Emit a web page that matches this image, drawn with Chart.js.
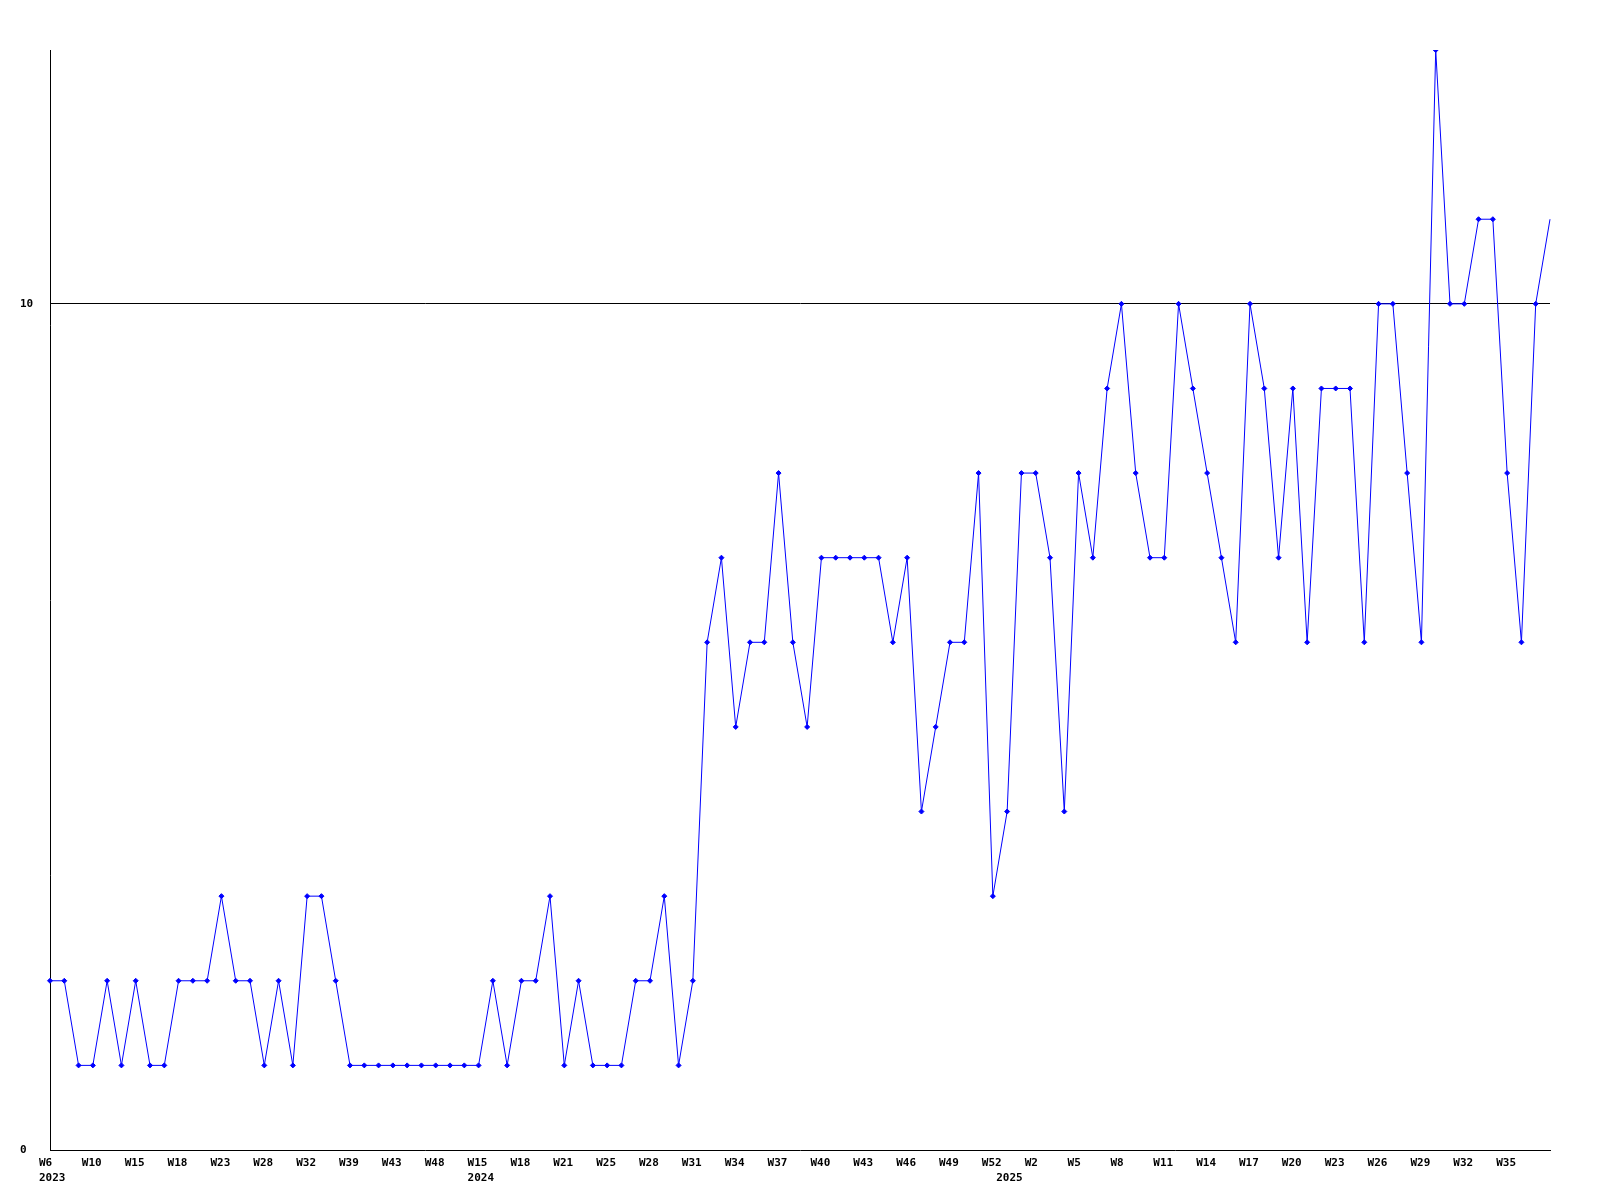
<!DOCTYPE html>
<html>
<head>
<meta charset="utf-8">
<script src="https://cdn.jsdelivr.net/npm/chart.js@4/dist/chart.umd.min.js"></script>
<style>
	body { margin: 0; background: #fff; }
	canvas { display: block; }
</style>
</head>
<body>
<canvas id="weekly" width="1600" height="1200"></canvas>
<script>
// week of each point (only every 3rd one is printed under the axis)
var weeks = [
	'W6', 'W7', 'W8', 'W10', 'W12', 'W13', 'W15', 'W16', 'W17', 'W18',
	'W20', 'W21', 'W23', 'W25', 'W26', 'W28', 'W29', 'W31', 'W32', 'W34',
	'W36', 'W39', 'W40', 'W42', 'W43', 'W45', 'W46', 'W48', 'W49', 'W50',
	'W15', 'W16', 'W17', 'W18', 'W19', 'W20', 'W21', 'W22', 'W24', 'W25',
	'W26', 'W27', 'W28', 'W29', 'W30', 'W31', 'W32', 'W33', 'W34', 'W35',
	'W36', 'W37', 'W38', 'W39', 'W40', 'W41', 'W42', 'W43', 'W44', 'W45',
	'W46', 'W47', 'W48', 'W49', 'W50', 'W51', 'W52', 'W0', 'W1', 'W2',
	'W3', 'W4', 'W5', 'W6', 'W7', 'W8', 'W9', 'W10', 'W11', 'W12',
	'W13', 'W14', 'W15', 'W16', 'W17', 'W18', 'W19', 'W20', 'W21', 'W22',
	'W23', 'W24', 'W25', 'W26', 'W27', 'W28', 'W29', 'W30', 'W31', 'W32',
	'W33', 'W34', 'W35', 'W36', 'W37', 'W38'
];

var years = [
	2023, 2023, 2023, 2023, 2023, 2023, 2023, 2023, 2023, 2023,
	2023, 2023, 2023, 2023, 2023, 2023, 2023, 2023, 2023, 2023,
	2023, 2023, 2023, 2023, 2023, 2023, 2023, 2023, 2023, 2023,
	2024, 2024, 2024, 2024, 2024, 2024, 2024, 2024, 2024, 2024,
	2024, 2024, 2024, 2024, 2024, 2024, 2024, 2024, 2024, 2024,
	2024, 2024, 2024, 2024, 2024, 2024, 2024, 2024, 2024, 2024,
	2024, 2024, 2024, 2024, 2024, 2024, 2024, 2025, 2025, 2025,
	2025, 2025, 2025, 2025, 2025, 2025, 2025, 2025, 2025, 2025,
	2025, 2025, 2025, 2025, 2025, 2025, 2025, 2025, 2025, 2025,
	2025, 2025, 2025, 2025, 2025, 2025, 2025, 2025, 2025, 2025,
	2025, 2025, 2025, 2025, 2025, 2025
];

var counts = [
	2, 2, 1, 1, 2, 1, 2, 1, 1, 2,
	2, 2, 3, 2, 2, 1, 2, 1, 3, 3,
	2, 1, 1, 1, 1, 1, 1, 1, 1, 1,
	1, 2, 1, 2, 2, 3, 1, 2, 1, 1,
	1, 2, 2, 3, 1, 2, 6, 7, 5, 6,
	6, 8, 6, 5, 7, 7, 7, 7, 7, 6,
	7, 4, 5, 6, 6, 8, 3, 4, 8, 8,
	7, 4, 8, 7, 9, 10, 8, 7, 7, 10,
	9, 8, 7, 6, 10, 9, 7, 9, 6, 9,
	9, 9, 6, 10, 10, 8, 6, 13, 10, 10,
	11, 11, 8, 6, 10, 11
];

var yTicks = [0, 10];

// week on every 3rd point, year under the first point of each year
function week_label(value, index) {
	var week = '';
	if (index % 3 == 0 && index != weeks.length - 1) {
		week = weeks[index];
	}
	if (index == 0 || years[index - 1] != years[index]) {
		return [week, String(years[index])];
	}
	return week;
}

function draw() {
	var ctx = document.getElementById('weekly').getContext('2d');
	var tickFont = { family: '"DejaVu Sans Mono", monospace', size: 11, weight: 'bold', lineHeight: 15 / 11 };

	var myChart = new Chart(ctx, {
		type: 'line',
		data: {
			labels: weeks,
			datasets: [{
				data: counts,
				borderColor: '#0000ff',
				backgroundColor: '#0000ff',
				borderWidth: 1,
				pointStyle: 'rectRot',
				pointRadius: function (c) {
					return c.dataIndex == counts.length - 1 ? 0 : 2.5;
				},
				pointBorderWidth: 1,
				tension: 0,
				fill: false
			}]
		},
		options: {
			responsive: false,
			animation: false,
			devicePixelRatio: 1,
			layout: {
				padding: { left: 20, right: 50, top: 50, bottom: 0 }
			},
			plugins: {
				legend: { display: false },
				tooltip: { enabled: false }
			},
			scales: {
				x: {
					type: 'category',
					offset: false,
					grid: { display: false },
					border: { display: true, color: '#000', width: 1 },
					ticks: {
						autoSkip: false,
						maxRotation: 0,
						minRotation: 0,
						align: 'start',
						labelOffset: -11,
						padding: -2,
						color: '#000',
						font: tickFont,
						callback: week_label
					},
					afterFit: function (scale) {
						scale.height = 50;
					}
				},
				y: {
					min: 0,
					max: 13,
					afterBuildTicks: function (axis) {
						axis.ticks = yTicks.map(function (v) {
							return { value: v };
						});
					},
					grid: {
						drawTicks: false,
						color: function (c) {
							return c.tick && c.tick.value == 10 ? '#000' : 'rgba(0,0,0,0)';
						},
						lineWidth: 1
					},
					border: { display: true, color: '#000', width: 1 },
					ticks: {
						crossAlign: 'far',
						padding: 0,
						color: '#000',
						font: tickFont
					},
					afterFit: function (scale) {
						scale.width = 30;
					}
				}
			}
		}
	});
}

window.onload = function() {
	draw();
};
</script>
</body>
</html>
